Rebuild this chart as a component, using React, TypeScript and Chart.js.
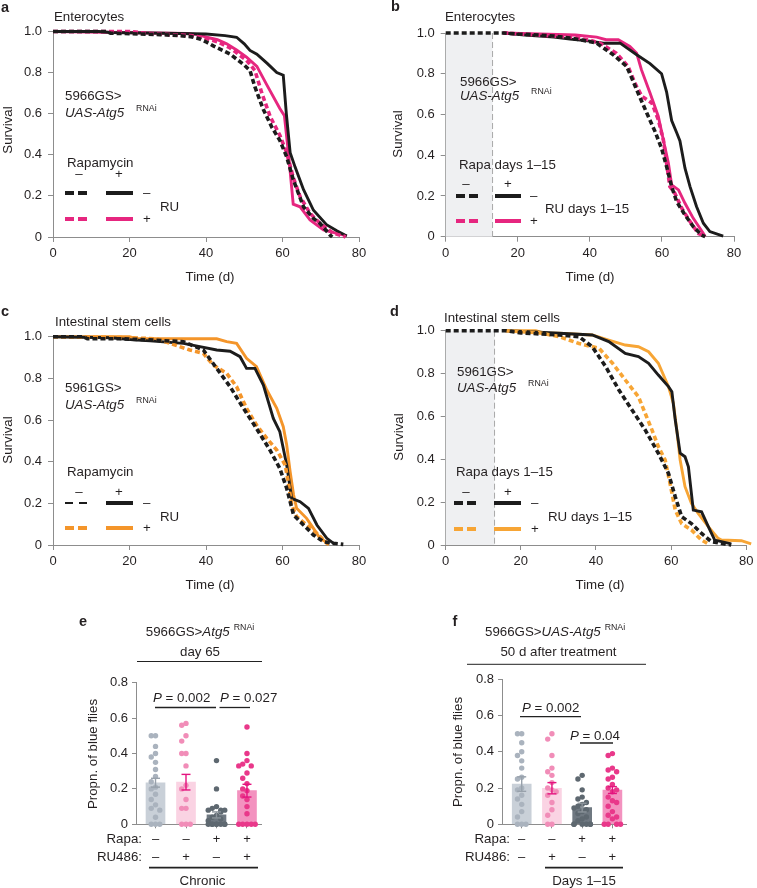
import React, { useEffect, useRef } from 'react';
import { Chart, registerables } from 'chart.js';

Chart.register(...registerables);

const W = 757;
const H = 888;
const FF = '"Liberation Sans", Arial, Helvetica, sans-serif';
const TXT = '#231f20';
const AXC = '#8d8d8d';
const BLACK = '#1c1c1c';
const PINK = '#e6267f';
const ORANGE = '#f4952a';
const ORANGE_D = '#f7a535';
const FS = 13.3;

// ---------- tick labels ----------
const SURV_X_TICKS = [0, 20, 40, 60, 80];
const SURV_Y_TICKS = [0, 0.2, 0.4, 0.6, 0.8, 1];
const PROP_Y_TICKS = [0, 0.2, 0.4, 0.6, 0.8];
const GROUP_POS = [1, 2, 3, 4];
const RAPA_SIGNS = ['–', '–', '+', '+'];
const RU_SIGNS = ['–', '+', '–', '+'];

// ---------- panel a (Enterocytes, chronic)  [day, survival] ----------
const aRuNegRapaNeg = [[0, 1], [14, 1], [15, 0.992], [28, 0.985], [33, 0.98], [36, 0.975], [38.4, 0.964], [40, 0.95], [41.9, 0.93], [46.3, 0.89], [49.8, 0.84], [51.5, 0.81], [52.8, 0.73], [55, 0.62], [57.2, 0.535], [59.3, 0.47], [61.1, 0.39], [62.8, 0.28], [65.5, 0.147], [68.1, 0.09], [69.8, 0.066], [72.4, 0.01], [73, 0]];
const aRuPosRapaNeg = [[0, 1], [20, 1], [25, 0.99], [36, 0.98], [39.3, 0.97], [43, 0.95], [46.3, 0.92], [50.6, 0.86], [52.8, 0.81], [54.6, 0.7], [56.8, 0.585], [59.3, 0.495], [61.1, 0.41], [62.8, 0.29], [64.6, 0.196], [67.2, 0.115], [69.8, 0.066], [73.3, 0.018], [75.9, 0.005], [76.5, 0]];
const aRuNegRapaPos = [[0, 1], [12, 1], [15, 0.995], [33, 0.99], [40, 0.988], [45, 0.98], [48, 0.972], [50, 0.94], [51.5, 0.908], [53.3, 0.89], [56, 0.845], [58.5, 0.8], [60.2, 0.787], [61, 0.6], [62, 0.41], [63.3, 0.34], [65.5, 0.23], [68.1, 0.13], [71.5, 0.06], [74.2, 0.03], [76.8, 0.005]];
const aRuPosRapaPos = [[0, 1], [35, 0.99], [38, 0.985], [40.2, 0.972], [43, 0.96], [45.4, 0.94], [48, 0.91], [50.6, 0.875], [53.3, 0.83], [55.9, 0.74], [59.3, 0.625], [60.5, 0.59], [61.6, 0.4], [62.8, 0.16], [64.6, 0.147], [67.2, 0.083], [70.7, 0.034], [74.2, 0.018], [76.8, 0.005]];

// ---------- panel b (Enterocytes, days 1-15) ----------
const bRuNegRapaNeg = [[0, 1], [16, 1], [20, 0.995], [26, 0.99], [30, 0.985], [34.5, 0.975], [38, 0.965], [41.9, 0.95], [46.5, 0.893], [50.2, 0.836], [51.6, 0.78], [53.5, 0.7], [55.8, 0.607], [58.1, 0.516], [59.9, 0.434], [61.3, 0.344], [62.7, 0.246], [64.1, 0.172], [66.4, 0.107], [68.7, 0.05], [71, 0.008], [72, 0]];
const bRuPosRapaNeg = [[16, 1], [25, 0.99], [35, 0.98], [40, 0.965], [42.8, 0.95], [47.4, 0.9], [50.6, 0.836], [52.5, 0.754], [54.4, 0.69], [57.2, 0.656], [59, 0.574], [60.4, 0.475], [62.2, 0.246], [63.6, 0.213], [65.5, 0.14], [67.8, 0.074], [70.1, 0.016], [72, 0.003]];
const bRuNegRapaPos = [[16, 1], [22, 0.99], [30, 0.98], [34.5, 0.97], [40, 0.96], [43.7, 0.95], [48.4, 0.95], [53, 0.893], [56.7, 0.85], [59.9, 0.8], [61.3, 0.71], [62.7, 0.57], [64.1, 0.51], [65, 0.47], [66.4, 0.336], [67.8, 0.246], [69.6, 0.148], [71.5, 0.066], [73.3, 0.025], [77, 0.003]];
const bRuPosRapaPos = [[16, 1], [36, 0.99], [41.9, 0.98], [44.5, 0.967], [47.9, 0.967], [51.1, 0.934], [53, 0.9], [54.3, 0.82], [56.7, 0.705], [59, 0.59], [60.4, 0.475], [61.8, 0.36], [62.7, 0.254], [64.6, 0.23], [66.4, 0.164], [68.7, 0.09], [71.5, 0.016], [72, 0]];

// ---------- panel c (ISC, chronic) ----------
const cRuNegRapaNeg = [[0, 1], [8, 1], [9, 0.99], [18, 0.99], [25, 0.985], [34.1, 0.976], [39.3, 0.936], [42.8, 0.848], [46.3, 0.76], [49.8, 0.656], [53.2, 0.56], [56.7, 0.456], [59.3, 0.368], [61.1, 0.272], [62.9, 0.144], [65.5, 0.096], [68.1, 0.048], [70.7, 0.016], [73.3, 0.008], [75.9, 0.003]];
const cRuPosRapaNeg = [[0, 1], [20, 0.995], [27, 0.99], [30.6, 0.968], [35.8, 0.936], [39.3, 0.92], [41.9, 0.864], [45.4, 0.824], [48, 0.76], [50.6, 0.656], [53.2, 0.576], [55.9, 0.512], [58.5, 0.456], [60.7, 0.384], [61.5, 0.304], [62.4, 0.192], [63.7, 0.136], [66.3, 0.096], [69, 0.056], [71.6, 0.008], [72.5, 0]];
const cRuNegRapaPos = [[0, 1], [15, 0.995], [21, 0.985], [25.4, 0.98], [34.1, 0.968], [38.4, 0.952], [42.8, 0.936], [46.3, 0.93], [48.9, 0.904], [50.6, 0.848], [52.8, 0.848], [55, 0.768], [57.6, 0.608], [59.3, 0.544], [61.1, 0.384], [62.4, 0.224], [64.6, 0.208], [66.8, 0.176], [69, 0.096], [71.6, 0.032], [73.7, 0.003]];
const cRuPosRapaPos = [[0, 1], [20, 1], [22, 0.99], [42.8, 0.99], [45.4, 0.976], [48, 0.968], [50.6, 0.896], [53.2, 0.856], [55.9, 0.744], [58.5, 0.656], [60.2, 0.568], [61.1, 0.48], [62, 0.352], [62.9, 0.24], [63.7, 0.176], [66.3, 0.128], [68.1, 0.08], [69.8, 0.032], [72, 0.008]];

// ---------- panel d (ISC, days 1-15) ----------
const dRuNegRapaNeg = [[0, 1], [16, 1], [20, 0.99], [30.2, 0.98], [35.5, 0.972], [39, 0.925], [42.6, 0.832], [46.1, 0.723], [49.6, 0.63], [53.1, 0.537], [56.6, 0.428], [59.3, 0.334], [61.1, 0.225], [62.8, 0.132], [65.4, 0.1], [68.1, 0.054], [70.7, 0.016], [74.3, 0.005], [76, 0]];
const dRuPosRapaNeg = [[16, 1], [25, 0.99], [30.2, 0.972], [35.5, 0.94], [40.8, 0.918], [44.4, 0.848], [47.8, 0.77], [51.3, 0.692], [53.1, 0.614], [54.9, 0.537], [56.6, 0.459], [58.4, 0.397], [59.7, 0.288], [61.1, 0.163], [62.8, 0.1], [65.4, 0.07], [68.1, 0.023], [69.9, 0.005]];
const dRuNegRapaPos = [[16, 1], [22, 0.995], [30.2, 0.988], [39, 0.98], [43.4, 0.949], [47.8, 0.894], [51.3, 0.879], [54, 0.848], [56.6, 0.793], [59.3, 0.739], [60.2, 0.715], [61.1, 0.583], [62.4, 0.428], [63.7, 0.412], [64.6, 0.365], [65.9, 0.163], [68.1, 0.155], [69.9, 0.086], [71.6, 0.023], [76, 0.005]];
const dRuPosRapaPos = [[16, 1], [24, 1], [26, 0.99], [30.2, 0.988], [39, 0.98], [43.4, 0.956], [47.8, 0.933], [51.3, 0.925], [54, 0.902], [56.6, 0.848], [59.3, 0.739], [60.6, 0.661], [61.5, 0.537], [62.4, 0.397], [63.7, 0.272], [65.4, 0.194], [67.2, 0.148], [69.9, 0.086], [72.5, 0.031], [73.4, 0.023], [78.7, 0.02], [81.3, 0.005]];

const SHADE_END_DAY = 13;

// ---------- panel e (day 65, chronic) ----------
const eCtrlDots = [0.5, 0.5, 0.44, 0.4, 0.38, 0.35, 0.31, 0.27, 0.24, 0.21, 0.2, 0.17, 0.14, 0.11, 0.09, 0.08, 0.04, 0, 0, 0];
const eRuDots = [0.57, 0.56, 0.5, 0.47, 0.4, 0.4, 0.33, 0.22, 0.2, 0.14, 0.09, 0.09, 0, 0, 0];
const eRapaDots = [0.36, 0.2, 0.1, 0.09, 0.08, 0.08, 0.08, 0.07, 0.05, 0.04, 0.03, 0.02, 0, 0, 0, 0, 0, 0, 0, 0];
const eRuRapaDots = [0.55, 0.4, 0.36, 0.34, 0.33, 0.33, 0.29, 0.26, 0.23, 0.2, 0.19, 0.16, 0.14, 0.1, 0.06, 0, 0, 0, 0, 0];
const eMeans = [0.235, 0.238, 0.053, 0.19];
const eSems = [0.025, 0.044, 0.017, 0.036];

// ---------- panel f (50 d after treatment) ----------
const fCtrlDots = [0.5, 0.5, 0.45, 0.4, 0.38, 0.35, 0.31, 0.26, 0.25, 0.2, 0.19, 0.16, 0.14, 0.11, 0.07, 0.04, 0, 0, 0];
const fRuDots = [0.5, 0.47, 0.38, 0.31, 0.29, 0.27, 0.23, 0.2, 0.19, 0.18, 0.16, 0.12, 0.08, 0.05, 0, 0];
const fRapaDots = [0.27, 0.25, 0.19, 0.15, 0.14, 0.12, 0.11, 0.1, 0.09, 0.08, 0.07, 0.06, 0.04, 0.03, 0.02, 0, 0, 0, 0, 0, 0];
const fRuRapaDots = [0.39, 0.38, 0.31, 0.3, 0.29, 0.26, 0.25, 0.22, 0.2, 0.19, 0.18, 0.15, 0.13, 0.12, 0.1, 0.07, 0.05, 0.04, 0.03, 0, 0, 0, 0];
const fMeans = [0.222, 0.199, 0.092, 0.189];
const fSems = [0.04, 0.031, 0.024, 0.019];

const BAR_COLORS = ['#c9d0d8', '#fad3e3', '#6f7881', '#f392bf'];
const DOT_COLORS = ['#aab3be', '#f18db8', '#5e6870', '#e9388a'];
const ERR_COLORS = ['#98a1ab', '#e4137f', '#8b939a', '#e4137f'];

// ---------- helpers ----------
type Seg = { t: string; it?: boolean; sup?: boolean; b?: boolean; gap?: number };

function fnt(size: number, it = false, b = false) {
  return `${it ? 'italic ' : ''}${b ? 'bold ' : ''}${size}px ${FF}`;
}

function rich(ctx: CanvasRenderingContext2D, segs: Seg[], x: number, y: number, align: 'left' | 'center' | 'right' = 'left', size = FS) {
  ctx.save();
  ctx.fillStyle = TXT;
  ctx.textBaseline = 'middle';
  ctx.textAlign = 'left';
  const parts = segs.map((s) => {
    const sz = s.sup ? size * 0.66 : size;
    const f = fnt(sz, s.it, s.b);
    ctx.font = f;
    return { s, f, w: ctx.measureText(s.t).width + (s.gap || 0) };
  });
  const total = parts.reduce((a, p) => a + p.w, 0);
  let cx = align === 'center' ? x - total / 2 : align === 'right' ? x - total : x;
  for (const p of parts) {
    ctx.font = p.f;
    cx += p.s.gap || 0;
    ctx.fillText(p.s.t, cx, p.s.sup ? y - size * 0.3 : y);
    cx += p.w - (p.s.gap || 0);
  }
  ctx.restore();
}

function txt(ctx: CanvasRenderingContext2D, s: string, x: number, y: number, align: CanvasTextAlign = 'left', size = FS, bold = false, rotate = false) {
  ctx.save();
  ctx.fillStyle = TXT;
  ctx.font = fnt(size, false, bold);
  ctx.textBaseline = 'middle';
  ctx.textAlign = align;
  if (rotate) {
    ctx.translate(x, y);
    ctx.rotate(-Math.PI / 2);
    ctx.fillText(s, 0, 0);
  } else {
    ctx.fillText(s, x, y);
  }
  ctx.restore();
}

function seg(ctx: CanvasRenderingContext2D, x1: number, y1: number, x2: number, y2: number, color: string, width: number, dash: number[] = []) {
  ctx.save();
  ctx.strokeStyle = color;
  ctx.lineWidth = width;
  ctx.setLineDash(dash);
  ctx.lineCap = 'butt';
  ctx.beginPath();
  ctx.moveTo(x1, y1);
  ctx.lineTo(x2, y2);
  ctx.stroke();
  ctx.restore();
}

type Legend = {
  title: string; tx: number; ty: number;
  mx: number; px: number; hy: number;
  d1: number; d2: number; s1: number; s2: number; sx: number;
  r1: number; r2: number; color2: string;
  ru: string; rux: number; ruy: number; thin?: boolean;
};

function survLegend(ctx: CanvasRenderingContext2D, L: Legend) {
  txt(ctx, L.title, L.tx, L.ty);
  txt(ctx, '–', L.mx, L.hy, 'center');
  txt(ctx, '+', L.px, L.hy, 'center');
  if (L.thin) seg(ctx, L.d1, L.r1, L.d2, L.r1, BLACK, 1.8, [8, 6]);
  else seg(ctx, L.d1, L.r1, L.d2, L.r1, BLACK, 4, [9, 4]);
  seg(ctx, L.s1, L.r1, L.s2, L.r1, BLACK, 4);
  txt(ctx, '–', L.sx, L.r1, 'left');
  seg(ctx, L.d1, L.r2, L.d2, L.r2, L.color2, 4, [9, 4]);
  seg(ctx, L.s1, L.r2, L.s2, L.r2, L.color2, 4);
  txt(ctx, '+', L.sx, L.r2, 'left');
  txt(ctx, L.ru, L.rux, L.ruy);
}

type Curve = { data: number[][]; color: string; dashed: boolean };
type Area = { l: number; t: number; r: number; b: number };

const YW = 40;
const XH = 40;

function survConfig(ca: Area, curves: Curve[], shade: boolean, annotate: (ctx: CanvasRenderingContext2D) => void) {
  return {
    type: 'line',
    data: {
      datasets: curves.map((c) => ({
        data: c.data.map(([x, y]) => ({ x, y })),
        borderColor: c.color,
        borderWidth: c.dashed ? 3.6 : 2.9,
        borderDash: c.dashed ? [5, 3] : [],
        borderCapStyle: 'butt',
        pointRadius: 0,
        pointHoverRadius: 0,
        tension: 0,
        fill: false,
        clip: false,
      })),
    },
    options: {
      responsive: false,
      animation: false,
      events: [],
      layout: { padding: { left: ca.l - YW, top: ca.t, right: W - ca.r, bottom: H - ca.b - XH } },
      plugins: { legend: { display: false }, tooltip: { enabled: false } },
      scales: {
        x: {
          type: 'linear', min: 0, max: 80,
          afterBuildTicks: (s: any) => { s.ticks = SURV_X_TICKS.map((v) => ({ value: v })); },
          afterFit: (s: any) => { s.height = XH; },
          ticks: { font: { family: FF, size: 13 }, color: TXT, padding: 3.5, maxRotation: 0, autoSkip: false },
          grid: { drawOnChartArea: false, drawTicks: true, tickLength: 5, color: AXC },
          border: { color: AXC, width: 1 },
        },
        y: {
          type: 'linear', min: 0, max: 1,
          afterBuildTicks: (s: any) => { s.ticks = SURV_Y_TICKS.map((v) => ({ value: v })); },
          afterFit: (s: any) => { s.width = YW; },
          ticks: { font: { family: FF, size: 13 }, color: TXT, padding: 6, callback: (v: number) => (v === 0 ? '0' : v.toFixed(1)) },
          grid: { drawOnChartArea: false, drawTicks: true, tickLength: 5, color: AXC },
          border: { color: AXC, width: 1 },
        },
      },
    },
    plugins: [
      {
        id: 'survAnnot',
        beforeDatasetsDraw(chart: any) {
          if (!shade) return;
          const ctx = chart.ctx as CanvasRenderingContext2D;
          const xs = chart.scales.x;
          const ys = chart.scales.y;
          const x0 = xs.getPixelForValue(0);
          const x1 = xs.getPixelForValue(SHADE_END_DAY);
          const y0 = ys.getPixelForValue(1);
          const y1 = ys.getPixelForValue(0);
          ctx.save();
          ctx.fillStyle = '#eff0f2';
          ctx.fillRect(x0, y0, x1 - x0, y1 - y0);
          ctx.restore();
          seg(ctx, x1, y0, x1, y1, '#a9a9a9', 1, [6, 3]);
        },
        afterDraw(chart: any) {
          annotate(chart.ctx as CanvasRenderingContext2D);
        },
      },
    ],
  };
}

function swarm(vals: number[]) {
  const cands = [0, -0.14, 0.14, -0.27, 0.27];
  const placed: { dx: number; y: number }[] = [];
  [...vals].sort((a, b) => b - a).forEach((v, k) => {
    let pick = cands[k % cands.length];
    for (const c of cands) {
      if (placed.every((p) => Math.abs(p.y - v) >= 0.035 || Math.abs(p.dx - c) >= 0.12)) { pick = c; break; }
    }
    placed.push({ dx: pick, y: v });
  });
  return placed;
}

function propConfig(ca: Area, xmin: number, xmax: number, groups: number[][], means: number[], sems: number[], annotate: (ctx: CanvasRenderingContext2D) => void) {
  return {
    type: 'bar',
    data: {
      datasets: [
        ...groups.map((vals, i) => ({
          type: 'scatter',
          data: swarm(vals).map((d) => ({ x: GROUP_POS[i] + d.dx, y: d.y })),
          pointRadius: 2.7,
          pointHoverRadius: 0,
          pointBackgroundColor: DOT_COLORS[i],
          pointBorderWidth: 0,
          order: 0,
          clip: false,
        })),
        {
          type: 'bar',
          data: means.map((m, i) => ({ x: GROUP_POS[i], y: m })),
          backgroundColor: BAR_COLORS,
          borderWidth: 0,
          barThickness: 19,
          grouped: false,
          order: 1,
        },
      ],
    },
    options: {
      responsive: false,
      animation: false,
      events: [],
      layout: { padding: { left: ca.l - YW, top: ca.t, right: W - ca.r, bottom: H - ca.b - 50 } },
      plugins: { legend: { display: false }, tooltip: { enabled: false } },
      scales: {
        x: {
          type: 'linear', min: xmin, max: xmax, offset: false,
          afterBuildTicks: (s: any) => { s.ticks = GROUP_POS.map((v) => ({ value: v })); },
          afterFit: (s: any) => { s.height = 50; },
          ticks: {
            font: { family: FF, size: 13, lineHeight: '18px' }, color: TXT, padding: 1.7, maxRotation: 0, autoSkip: false,
            callback: (v: number) => { const i = Math.round(v) - 1; return [RAPA_SIGNS[i], RU_SIGNS[i]]; },
          },
          grid: { drawOnChartArea: false, drawTicks: true, tickLength: 4, color: AXC, offset: false },
          border: { color: AXC, width: 1 },
        },
        y: {
          type: 'linear', min: 0, max: 0.8,
          afterBuildTicks: (s: any) => { s.ticks = PROP_Y_TICKS.map((v) => ({ value: v })); },
          afterFit: (s: any) => { s.width = YW; },
          ticks: { font: { family: FF, size: 13 }, color: TXT, padding: 4, callback: (v: number) => (v === 0 ? '0' : v.toFixed(1)) },
          grid: { drawOnChartArea: false, drawTicks: true, tickLength: 4, color: AXC },
          border: { color: AXC, width: 1 },
        },
      },
    },
    plugins: [
      {
        id: 'propAnnot',
        afterDatasetsDraw(chart: any) {
          const ctx = chart.ctx as CanvasRenderingContext2D;
          const xs = chart.scales.x;
          const ys = chart.scales.y;
          means.forEach((m, i) => {
            const x = xs.getPixelForValue(GROUP_POS[i]);
            const yt = ys.getPixelForValue(m + sems[i]);
            const yb = ys.getPixelForValue(m - sems[i]);
            seg(ctx, x, yt, x, yb, ERR_COLORS[i], 1.4);
            seg(ctx, x - 4.5, yt, x + 4.5, yt, ERR_COLORS[i], 1.4);
            seg(ctx, x - 4.5, yb, x + 4.5, yb, ERR_COLORS[i], 1.4);
          });
        },
        afterDraw(chart: any) {
          annotate(chart.ctx as CanvasRenderingContext2D);
        },
      },
    ],
  };
}

// ---------- annotations ----------
function annotA(ctx: CanvasRenderingContext2D) {
  txt(ctx, 'a', 1, 8, 'left', 14.5, true);
  txt(ctx, 'Enterocytes', 54, 17);
  rich(ctx, [{ t: '5966GS>' }], 65, 96);
  rich(ctx, [{ t: 'UAS-Atg5', it: true }, { t: 'RNAi', sup: true, gap: 12 }], 65, 113);
  survLegend(ctx, { title: 'Rapamycin', tx: 67, ty: 163, mx: 79, px: 119, hy: 174, d1: 65, d2: 87, s1: 106, s2: 133, sx: 143, r1: 193, r2: 219, color2: PINK, ru: 'RU', rux: 160, ruy: 207 });
  txt(ctx, 'Survival', 8, 130, 'center', FS, false, true);
  txt(ctx, 'Time (d)', 210, 277, 'center');
}

function annotB(ctx: CanvasRenderingContext2D) {
  txt(ctx, 'b', 391, 7, 'left', 14.5, true);
  txt(ctx, 'Enterocytes', 445, 17);
  rich(ctx, [{ t: '5966GS>' }], 460, 82);
  rich(ctx, [{ t: 'UAS-Atg5', it: true }, { t: 'RNAi', sup: true, gap: 12 }], 460, 96);
  survLegend(ctx, { title: 'Rapa days 1–15', tx: 459, ty: 165, mx: 466, px: 508, hy: 184, d1: 456, d2: 478, s1: 495, s2: 521, sx: 530, r1: 196, r2: 221, color2: PINK, ru: 'RU days 1–15', rux: 545, ruy: 209 });
  txt(ctx, 'Survival', 398, 134, 'center', FS, false, true);
  txt(ctx, 'Time (d)', 590, 277, 'center');
}

function annotC(ctx: CanvasRenderingContext2D) {
  txt(ctx, 'c', 1, 312, 'left', 14.5, true);
  txt(ctx, 'Intestinal stem cells', 55, 322);
  rich(ctx, [{ t: '5961GS>' }], 65, 388);
  rich(ctx, [{ t: 'UAS-Atg5', it: true }, { t: 'RNAi', sup: true, gap: 12 }], 65, 405);
  survLegend(ctx, { title: 'Rapamycin', tx: 67, ty: 472, mx: 79, px: 119, hy: 492, d1: 65, d2: 87, s1: 106, s2: 133, sx: 143, r1: 503, r2: 528, color2: ORANGE, ru: 'RU', rux: 160, ruy: 517, thin: true });
  txt(ctx, 'Survival', 8, 440, 'center', FS, false, true);
  txt(ctx, 'Time (d)', 210, 585, 'center');
}

function annotD(ctx: CanvasRenderingContext2D) {
  txt(ctx, 'd', 390, 312, 'left', 14.5, true);
  txt(ctx, 'Intestinal stem cells', 444, 318);
  rich(ctx, [{ t: '5961GS>' }], 457, 372);
  rich(ctx, [{ t: 'UAS-Atg5', it: true }, { t: 'RNAi', sup: true, gap: 12 }], 457, 388);
  survLegend(ctx, { title: 'Rapa days 1–15', tx: 456, ty: 472, mx: 466, px: 508, hy: 492, d1: 454, d2: 477, s1: 494, s2: 521, sx: 531, r1: 503, r2: 529, color2: ORANGE_D, ru: 'RU days 1–15', rux: 548, ruy: 517 });
  txt(ctx, 'Survival', 399, 437, 'center', FS, false, true);
  txt(ctx, 'Time (d)', 600, 585, 'center');
}

function annotE(ctx: CanvasRenderingContext2D) {
  txt(ctx, 'e', 83, 622, 'center', 14.5, true);
  rich(ctx, [{ t: '5966GS>' }, { t: 'Atg5', it: true }, { t: 'RNAi', sup: true, gap: 4 }], 200, 632, 'center');
  txt(ctx, 'day 65', 200, 652, 'center');
  seg(ctx, 137, 661.5, 262, 661.5, '#222', 1);
  rich(ctx, [{ t: 'P', it: true }, { t: ' = 0.002' }], 153, 698);
  seg(ctx, 155, 707.5, 216, 707.5, '#222', 1.3);
  rich(ctx, [{ t: 'P', it: true }, { t: ' = 0.027' }], 220, 698);
  seg(ctx, 219.5, 707.5, 250, 707.5, '#222', 1.3);
  txt(ctx, 'Rapa:', 142, 839, 'right');
  txt(ctx, 'RU486:', 142, 857, 'right');
  seg(ctx, 149, 867.7, 258, 867.7, '#222', 1.8);
  txt(ctx, 'Chronic', 202.5, 881.5, 'center');
  txt(ctx, 'Propn. of blue flies', 93, 754, 'center', FS, false, true);
}

function annotF(ctx: CanvasRenderingContext2D) {
  txt(ctx, 'f', 455, 622, 'center', 14.5, true);
  rich(ctx, [{ t: '5966GS>' }, { t: 'UAS-Atg5', it: true }, { t: 'RNAi', sup: true, gap: 4 }], 485, 632);
  txt(ctx, '50 d after treatment', 558.5, 652, 'center');
  seg(ctx, 467, 664.3, 646, 664.3, '#222', 1);
  rich(ctx, [{ t: 'P', it: true }, { t: ' = 0.002' }], 522, 708);
  seg(ctx, 520, 716.7, 581, 716.7, '#222', 1.3);
  rich(ctx, [{ t: 'P', it: true }, { t: ' = 0.04' }], 570, 736);
  seg(ctx, 580, 743, 613, 743, '#222', 1.3);
  txt(ctx, 'Rapa:', 510, 839, 'right');
  txt(ctx, 'RU486:', 510, 857, 'right');
  seg(ctx, 545, 867.7, 623, 867.7, '#222', 1.8);
  txt(ctx, 'Days 1–15', 584, 881.5, 'center');
  txt(ctx, 'Propn. of blue flies', 458, 752, 'center', FS, false, true);
}

function buildConfigs(): any[] {
  return [
    survConfig({ l: 53, t: 31.5, r: 359, b: 237 }, [
      { data: aRuNegRapaNeg, color: BLACK, dashed: true },
      { data: aRuPosRapaNeg, color: PINK, dashed: true },
      { data: aRuNegRapaPos, color: BLACK, dashed: false },
      { data: aRuPosRapaPos, color: PINK, dashed: false },
    ], false, annotA),
    survConfig({ l: 445.7, t: 33, r: 734, b: 236.7 }, [
      { data: bRuNegRapaNeg, color: BLACK, dashed: true },
      { data: bRuPosRapaNeg, color: PINK, dashed: true },
      { data: bRuNegRapaPos, color: BLACK, dashed: false },
      { data: bRuPosRapaPos, color: PINK, dashed: false },
    ], true, annotB),
    survConfig({ l: 53, t: 336.7, r: 359, b: 545 }, [
      { data: cRuNegRapaNeg, color: BLACK, dashed: true },
      { data: cRuPosRapaNeg, color: ORANGE, dashed: true },
      { data: cRuNegRapaPos, color: BLACK, dashed: false },
      { data: cRuPosRapaPos, color: ORANGE, dashed: false },
    ], false, annotC),
    survConfig({ l: 445.7, t: 330.7, r: 748.3, b: 545 }, [
      { data: dRuNegRapaNeg, color: BLACK, dashed: true },
      { data: dRuPosRapaNeg, color: ORANGE_D, dashed: true },
      { data: dRuNegRapaPos, color: BLACK, dashed: false },
      { data: dRuPosRapaPos, color: ORANGE_D, dashed: false },
    ], true, annotD),
    propConfig({ l: 136, t: 682.7, r: 261, b: 824.3 }, 0.36, 4.46,
      [eCtrlDots, eRuDots, eRapaDots, eRuRapaDots], eMeans, eSems, annotE),
    propConfig({ l: 502, t: 679.3, r: 626, b: 824.3 }, 0.348, 4.45,
      [fCtrlDots, fRuDots, fRapaDots, fRuRapaDots], fMeans, fSems, annotF),
  ];
}

export default function App() {
  const refs = [useRef<HTMLCanvasElement>(null), useRef<HTMLCanvasElement>(null), useRef<HTMLCanvasElement>(null), useRef<HTMLCanvasElement>(null), useRef<HTMLCanvasElement>(null), useRef<HTMLCanvasElement>(null)];
  useEffect(() => {
    const configs = buildConfigs();
    const charts = refs.map((r, i) => new Chart(r.current as HTMLCanvasElement, configs[i]));
    return () => charts.forEach((c) => c.destroy());
  }, []);
  return (
    <div style={{ position: 'absolute', left: 0, top: 0, width: W, height: H, background: '#fff', overflow: 'hidden' }}>
      {refs.map((r, i) => (
        <canvas key={i} ref={r} width={W} height={H} style={{ position: 'absolute', left: 0, top: 0, width: W, height: H }} />
      ))}
    </div>
  );
}
